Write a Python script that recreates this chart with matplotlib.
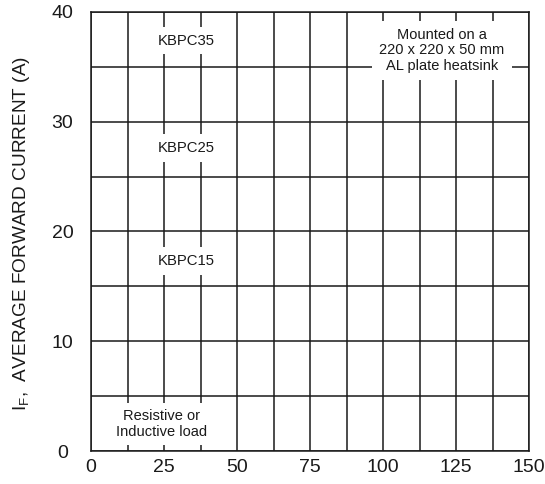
import matplotlib
matplotlib.use("Agg")
import matplotlib.pyplot as plt
import numpy as np

plt.rcParams['font.family'] = ['Liberation Sans', 'DejaVu Sans']

x_ticks = [0, 25, 50, 75, 100, 125, 150]
y_ticks = [0, 10, 20, 30, 40]
x_grid = [12.5 * i for i in range(13)]
y_grid = [5 * i for i in range(9)]
device_labels = ["KBPC35", "KBPC25", "KBPC15"]
device_label_y = [37.4, 27.6, 17.3]
load_note = "Resistive or\nInductive load"
mount_note = "Mounted on a\n220 x 220 x 50 mm\nAL plate heatsink"
y_label = r"I$_\mathregular{F}$,  AVERAGE FORWARD CURRENT (A)"

ink = '#1a1a1a'
fig = plt.figure(figsize=(5.45, 4.84), dpi=100)
ax = fig.add_axes([91/545, 33/484, 438/545, 439/484])
ax.set_xlim(0, 150)
ax.set_ylim(0, 40)

for xv in x_grid:
    ax.axvline(xv, color=ink, lw=1.1, zorder=1)
for yv in y_grid:
    ax.axhline(yv, color=ink, lw=1.1, zorder=1)

ax.set_xticks(x_ticks)
ax.set_yticks(y_ticks)
ax.tick_params(axis='both', length=0, labelsize=14, colors=ink)
ax.tick_params(axis='x', pad=6)
ax.tick_params(axis='y', pad=20.5)
for lbl in ax.get_yticklabels():
    lbl.set_horizontalalignment('center')
for s in ax.spines.values():
    s.set_color(ink)
    s.set_linewidth(1.1)

ax.set_ylabel(y_label, fontsize=13.7, color=ink)
ax.yaxis.set_label_coords((32 - 91) / 438, 0.495)

box = dict(boxstyle='square,pad=0.45', fc='white', ec='none')
for lab, yv in zip(device_labels, device_label_y):
    ax.text(32.6, yv, lab, ha='center', va='center', fontsize=10.7, color=ink,
            bbox=box, zorder=3)

ax.text(24.1, 2.45, load_note, ha='center', va='center', fontsize=10.5, color=ink,
        linespacing=1.12, bbox=dict(boxstyle='square,pad=0.45', fc='white', ec='none'), zorder=3)
ax.text(120.1, 36.5, mount_note, ha='center', va='center', fontsize=10.5, color=ink,
        linespacing=1.12, bbox=dict(boxstyle='square,pad=0.5', fc='white', ec='none'), zorder=3)

fig.savefig("out.png", dpi=100)
